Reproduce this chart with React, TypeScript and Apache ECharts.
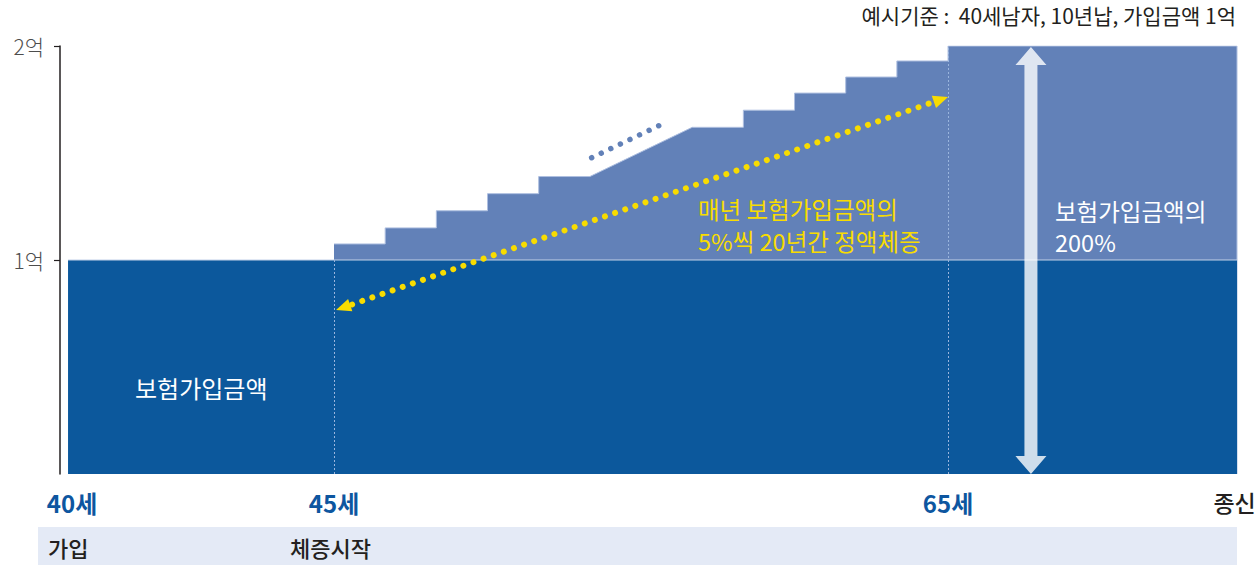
import { useEffect, useRef } from "react";
import * as echarts from "echarts";

// x is measured in "step units": 45세 = 0, one yearly step = 1, 65세 = 12
const X_MIN = -5.355;
const X_MAX = 17.647;
const BASE_START = -5.198;

const stepStart = [0, 1, 2, 3, 4, 7, 8, 9, 10, 11, 12];
const stepValue = [1.075, 1.15, 1.23, 1.31, 1.39, 1.62, 1.7, 1.78, 1.855, 1.93, 2.0];
const baseValue = 1;

const xLabelPos = [-5.12, 0, 12, 17.6];
const xLabels = ["40세", "45세", "65세", "종신"];
const yTicks = [1, 2];
const yLabels = ["1억", "2억"];

// annotation anchors (data coords)
const growthArrow = [[0.04, 0.766], [12.0, 1.762]];
const gapDots = [[5.035, 1.478], [6.43, 1.637]];
const doubleArrow = [[13.62, 0.0], [13.62, 1.995]];

const FONT = "'Noto Sans CJK KR', 'Noto Sans', sans-serif";
const DARK = "#0c589c";
const LIGHT = "#6281b8";
const YELLOW = "#f8dc00";

export default function App() {
  const chartRef = useRef<HTMLDivElement>(null);

  useEffect(() => {
    document.body.style.margin = "0";
    if (!chartRef.current) return;
    const chart = echarts.init(chartRef.current, undefined, { renderer: "svg" });

    const stepPoints: number[][] = [];
    stepStart.forEach((s, i) => {
      const e = i < stepStart.length - 1 ? s + 1 : X_MAX;
      stepPoints.push([s, stepValue[i]], [e, stepValue[i]]);
    });
    stepPoints.push([X_MAX, 0]);

    const arrowHead = (tip: number[], u: number[], len: number, half: number) => {
      const bx = tip[0] - u[0] * len;
      const by = tip[1] - u[1] * len;
      return [
        tip,
        [bx - u[1] * half, by + u[0] * half],
        [bx + u[1] * half, by - u[0] * half],
      ];
    };

    const renderNotes = (params: any, api: any) => {
      // yellow dotted double-headed arrow
      const a = api.coord(growthArrow[0]);
      const b = api.coord(growthArrow[1]);
      const dx = b[0] - a[0];
      const dy = b[1] - a[1];
      const d = Math.sqrt(dx * dx + dy * dy);
      const u = [dx / d, dy / d];
      const neg = [-u[0], -u[1]];

      // blue dots in the gap
      const g1 = api.coord(gapDots[0]);
      const g2 = api.coord(gapDots[1]);

      // white double arrow
      const top = api.coord(doubleArrow[1]);
      const bot = api.coord(doubleArrow[0]);
      const cx = top[0];
      const sw = 6.5;
      const hw = 15.5;
      const hh = 18;
      const dbl = [
        [cx, top[1]],
        [cx + hw, top[1] + hh],
        [cx + sw, top[1] + hh],
        [cx + sw, bot[1] - hh],
        [cx + hw, bot[1] - hh],
        [cx, bot[1]],
        [cx - hw, bot[1] - hh],
        [cx - sw, bot[1] - hh],
        [cx - sw, top[1] + hh],
        [cx - hw, top[1] + hh],
      ];

      return {
        type: "group",
        children: [
          {
            type: "polygon",
            shape: { points: dbl },
            style: { fill: "rgba(255,255,255,0.8)" },
          },
          {
            type: "line",
            shape: {
              x1: a[0] + u[0] * 17,
              y1: a[1] + u[1] * 17,
              x2: b[0] - u[0] * 14,
              y2: b[1] - u[1] * 14,
            },
            style: { stroke: YELLOW, lineWidth: 6, lineDash: [0.01, 10.7], lineCap: "round" },
          },
          {
            type: "polygon",
            shape: { points: arrowHead(a, neg, 15, 6.5) },
            style: { fill: YELLOW },
          },
          {
            type: "polygon",
            shape: { points: arrowHead(b, u, 15, 6.5) },
            style: { fill: YELLOW },
          },
          {
            type: "line",
            shape: { x1: g1[0], y1: g1[1], x2: g2[0], y2: g2[1] },
            style: { stroke: LIGHT, lineWidth: 5.5, lineDash: [0.01, 10.6], lineCap: "round" },
          },
        ],
      };
    };

    const text = (t: string, x: number, y: number, o: any = {}) => ({
      type: "text",
      x,
      y,
      silent: true,
      z: 100,
      style: {
        text: t,
        fill: o.fill || "#ffffff",
        font: `${o.weight || 400} ${o.size || 24}px ${FONT}`,
        align: o.align || "left",
        verticalAlign: "middle",
      },
    });

    const option = {
      animation: false,
      grid: {
        left: 60,
        right: 21,
        top: 46,
        bottom: 94,
        outerBoundsMode: "none",
      },
      xAxis: {
        type: "value",
        min: X_MIN,
        max: X_MAX,
        axisLine: { show: false },
        axisTick: { show: false },
        splitLine: { show: false },
        axisLabel: {
          customValues: xLabelPos,
          margin: 15,
          formatter: (v: number) => {
            const i = xLabelPos.findIndex((p) => Math.abs(p - v) < 1e-6);
            if (i < 0) return "";
            return i === xLabels.length - 1 ? `{end|${xLabels[i]}}` : `{age|${xLabels[i]}}`;
          },
          rich: {
            age: { fontFamily: FONT, fontSize: 24, fontWeight: 700, color: "#0d56a0", lineHeight: 26 },
            end: { fontFamily: FONT, fontSize: 23, fontWeight: 500, color: "#231f20", lineHeight: 26 },
          },
        },
      },
      yAxis: {
        type: "value",
        min: 0,
        max: 2,
        interval: 1,
        axisLine: { show: true, onZero: false, lineStyle: { color: "#231f20", width: 1.5 } },
        axisTick: { show: true, length: 6, customValues: yTicks, lineStyle: { color: "#231f20", width: 1.2 } },
        splitLine: { show: false },
        axisLabel: {
          customValues: yTicks,
          margin: 16,
          color: "#4d4d4d",
          fontFamily: FONT,
          fontSize: 21,
          fontWeight: 300,
          formatter: (v: number) => yLabels[yTicks.indexOf(v)] || "",
        },
      },
      series: [
        {
          name: "체증",
          type: "line",
          data: stepPoints,
          symbol: "none",
          z: 1,
          lineStyle: { color: "#aebfe0", width: 1 },
          areaStyle: { color: LIGHT, opacity: 1 },
        },
        {
          name: "기본",
          type: "line",
          data: [
            [BASE_START, baseValue],
            [X_MAX, baseValue],
          ],
          symbol: "none",
          z: 2,
          lineStyle: { color: "#c3d1e8", width: 1 },
          areaStyle: { color: DARK, opacity: 1 },
          markLine: {
            silent: true,
            symbol: "none",
            label: { show: false },
            lineStyle: { color: "#9ab5dd", type: [2, 2], width: 1 },
            data: [
              [{ coord: [0, 0] }, { coord: [0, baseValue] }],
              [{ coord: [12, 0] }, { coord: [12, 2] }],
            ],
          },
        },
        {
          type: "custom",
          z: 5,
          clip: false,
          silent: true,
          data: [[0, 0]],
          renderItem: renderNotes,
        },
      ],
      graphic: [
        text("예시기준 :  40세남자, 10년납, 가입금액 1억", 1236, 15, {
          fill: "#231f20",
          size: 21,
          align: "right",
        }),
        text("보험가입금액", 135, 387),
        text("매년 보험가입금액의", 698, 209, { fill: YELLOW, size: 23.5 }),
        text("5%씩 20년간 정액체증", 698, 241, { fill: YELLOW, size: 23.5 }),
        text("보험가입금액의", 1055, 211, { size: 23.5 }),
        text("200%", 1055, 242, { size: 23.5 }),
        {
          type: "rect",
          silent: true,
          z: 0,
          shape: { x: 38, y: 527, width: 1199, height: 38 },
          style: { fill: "#e4eaf6" },
        },
        text("가입", 48, 547, { fill: "#231f20", size: 22, weight: 500 }),
        text("체증시작", 290, 547, { fill: "#231f20", size: 22, weight: 500 }),
      ],
    };

    chart.setOption(option as any);

    return () => {
      chart.dispose();
    };
  }, []);

  return <div ref={chartRef} style={{ width: 1258, height: 568 }} />;
}
